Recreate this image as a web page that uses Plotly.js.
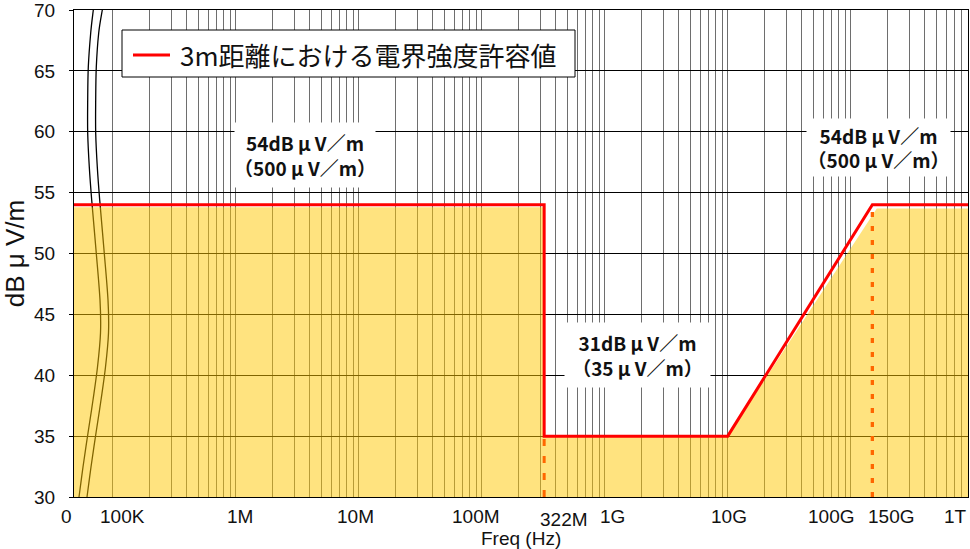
<!DOCTYPE html>
<html><head><meta charset="utf-8">
<script src="https://cdn.plot.ly/plotly-3.0.1.min.js"></script>
<style>html,body{margin:0;padding:0;background:#fff}#chart{width:970px;height:549px}</style>
</head><body><div id="chart"></div>
<script>
// ---- axis extent (log10 Hz); the left edge is the "0" break region ----
const xRangeLog = [4.6854, 11.9537];
const FREQ_START = Math.pow(10, xRangeLog[0]);
const FREQ_END = Math.pow(10, xRangeLog[1]);
const yRange = [30, 70];

// ---- data ----
const seriesName = '3m距離における電界強度許容値';
const limitFreqHz = [FREQ_START, 322e6, 322e6, 10e9, 150e9, FREQ_END];
const limitDb     = [54, 54, 35, 35, 54, 54];
const fillFreqHz  = [FREQ_START, 322e6, 322e6, 10e9, 163e9, FREQ_END];
const fillDb      = [53.8, 53.8, 35, 35, 53.7, 53.7];
const markerFreqHz = [322e6, 150e9];
const markerDb     = [35, 54];

// gridlines
const gridDecades = [1e5, 1e6, 1e7, 1e8, 1e9, 1e10, 1e11];
const gridMultipliers = [1, 2, 3, 4, 5, 6, 7, 8, 9];
const yTicks = [30, 35, 40, 45, 50, 55, 60, 65, 70];

// x tick labels (placed as text)
const xLabelText = ['100K', '1M', '10M', '100M', '322M', '1G', '10G', '100G', '150G', '1T'];
const xLabelFreq = [1e5, 1e6, 1e7, 1e8, 322e6, 1e9, 1e10, 1e11, 150e9, 1e12];
const xLabelShift = [10, 4, -3, -6, 20, 8, 1, -20, 19, -18];
const xLabelDrop  = [0, 0, 0, 0, 3, 0, 0, 0, 0, 0];

// value callouts
const calloutText = ['54dB μ V／m<br>（500 μ V／m）', '31dB μ V／m<br>（35 μ V／m）', '54dB μ V／m<br>（500 μ V／m）'];

// ---- layout geometry (pixels) ----
const W = 970, H = 549;
const P = {l: 74, r: 968, t: 10, b: 497};
const px = x => (x - P.l) / (P.r - P.l);
const py = y => (P.b - y) / (P.b - P.t);
const freqToPaper = f => (Math.log10(f) - xRangeLog[0]) / (xRangeLog[1] - xRangeLog[0]);

const tickVals = [];
gridDecades.forEach(d => gridMultipliers.forEach(m => tickVals.push(d * m)));

// break symbol curves (decoration)
const breakPts = [[93.3,10],[90.7,33],[88.3,67],[87.7,100],[87.7,133],[89.3,167],[91.7,200],[96,250],[100,300],[100.5,333],[97.5,367],[93,400],[88,433],[83,467],[79,497]];
function smoothPath(pts) {
  const p = pts.map(q => [px(q[0]), py(q[1])]);
  let d = 'M' + p[0][0] + ',' + p[0][1];
  for (let i = 0; i < p.length - 1; i++) {
    const p0 = p[Math.max(0, i - 1)], p1 = p[i], p2 = p[i + 1], p3 = p[Math.min(p.length - 1, i + 2)];
    const c1 = [p1[0] + (p2[0] - p0[0]) / 6, p1[1] + (p2[1] - p0[1]) / 6];
    const c2 = [p2[0] - (p3[0] - p1[0]) / 6, p2[1] - (p3[1] - p1[1]) / 6];
    d += ' C' + c1[0] + ',' + c1[1] + ' ' + c2[0] + ',' + c2[1] + ' ' + p2[0] + ',' + p2[1];
  }
  return d;
}
const breakPts2 = breakPts.map((q, i) => [q[0] + 8 + (i === 0 ? 1 : 0), q[1]]);

const traces = [
  { x: fillFreqHz, y: fillDb, type: 'scatter', mode: 'lines', fill: 'tozeroy',
    fillcolor: 'rgba(255,200,0,0.5)', line: {width: 0}, showlegend: false, hoverinfo: 'skip' },
  { x: [markerFreqHz[0], markerFreqHz[0]], y: [yRange[0], markerDb[0]], type: 'scatter', mode: 'lines',
    line: {color: '#FF6600', width: 3, dash: '7px,10px'}, showlegend: false, hoverinfo: 'skip' },
  { x: [markerFreqHz[1], markerFreqHz[1]], y: [yRange[0], markerDb[1]], type: 'scatter', mode: 'lines',
    line: {color: '#FF6600', width: 3.3, dash: '5px,9px'}, showlegend: false, hoverinfo: 'skip' },
  { x: limitFreqHz, y: limitDb, type: 'scatter', mode: 'lines', name: seriesName,
    line: {color: '#FF0000', width: 3}, showlegend: false }
];

const tickFont = {family: 'Liberation Sans, Arial, sans-serif', size: 19, color: '#111'};
const annotations = [];
xLabelText.forEach((t, i) => annotations.push({
  xref: 'paper', yref: 'paper', x: freqToPaper(xLabelFreq[i]), y: py(516 + xLabelDrop[i]),
  xanchor: 'center', yanchor: 'middle', xshift: xLabelShift[i], text: t, showarrow: false, font: tickFont
}));
annotations.push({xref: 'paper', yref: 'paper', x: px(66), y: py(516), xanchor: 'center', yanchor: 'middle',
  text: '0', showarrow: false, font: tickFont});
annotations.push({xref: 'paper', yref: 'paper', x: px(521), y: py(538), xanchor: 'center', yanchor: 'middle',
  text: 'Freq (Hz)', showarrow: false, font: {family: 'Liberation Sans, Arial, sans-serif', size: 19, color: '#111'}});

const calloutFont = {family: 'Noto Sans CJK JP, sans-serif', size: 19, color: '#111', weight: 'bold'};
const calloutBox = [[305, 155, 140, 64], [637.5, 355, 145, 64], [878.5, 147, 143, 57]];
calloutText.forEach((t, i) => annotations.push({
  xref: 'paper', yref: 'paper', x: px(calloutBox[i][0]), y: py(calloutBox[i][1]),
  xanchor: 'center', yanchor: 'middle', text: '<b>' + t + '</b>', showarrow: false,
  bgcolor: '#fff', width: calloutBox[i][2], height: calloutBox[i][3], borderpad: 0, font: calloutFont
}));
// legend text
annotations.push({xref: 'paper', yref: 'paper', x: px(178), y: py(54), xanchor: 'left', yanchor: 'middle',
  text: seriesName, showarrow: false, font: {family: 'Noto Sans CJK JP, sans-serif', size: 26, color: '#111'}});

const shapes = [
  {type: 'path', xref: 'paper', yref: 'paper', layer: 'below', path: smoothPath(breakPts), line: {color: '#000', width: 1.3}},
  {type: 'path', xref: 'paper', yref: 'paper', layer: 'below', path: smoothPath(breakPts2), line: {color: '#000', width: 1.3}},
  {type: 'rect', xref: 'paper', yref: 'paper', x0: px(122), x1: px(575), y0: py(30), y1: py(77),
    fillcolor: '#fff', line: {color: '#000', width: 1}},
  {type: 'line', xref: 'paper', yref: 'paper', x0: px(133), x1: px(170), y0: py(55), y1: py(55),
    line: {color: '#FF0000', width: 3}}
];

const layout = {
  width: W, height: H,
  margin: {l: P.l, r: W - P.r, t: P.t, b: H - P.b, pad: 0},
  paper_bgcolor: '#fff', plot_bgcolor: 'rgba(0,0,0,0)',
  showlegend: false,
  xaxis: {type: 'log', range: xRangeLog, tickmode: 'array', tickvals: tickVals, showticklabels: false,
    ticks: '', showgrid: true, gridcolor: '#6e6e6e', gridwidth: 1, zeroline: false,
    showline: true, linecolor: '#000', linewidth: 1, mirror: true, automargin: false},
  yaxis: {range: yRange, tickmode: 'array', tickvals: yTicks, ticks: 'outside', ticklen: 4, tickcolor: '#000',
    showgrid: true, gridcolor: '#000', gridwidth: 1, zeroline: false, ticklabelstandoff: 10,
    ticklabeloverflow: 'allow',
    showline: true, linecolor: '#000', linewidth: 1, mirror: true, tickfont: tickFont, automargin: false,
    title: {text: 'dB μ V/m', font: {family: 'Liberation Sans, Noto Sans CJK JP, sans-serif', size: 26, color: '#111'}, standoff: 4}},
  annotations: annotations,
  shapes: shapes
};

Plotly.newPlot('chart', traces, layout, {displayModeBar: false, staticPlot: true});
</script>
</body></html>
